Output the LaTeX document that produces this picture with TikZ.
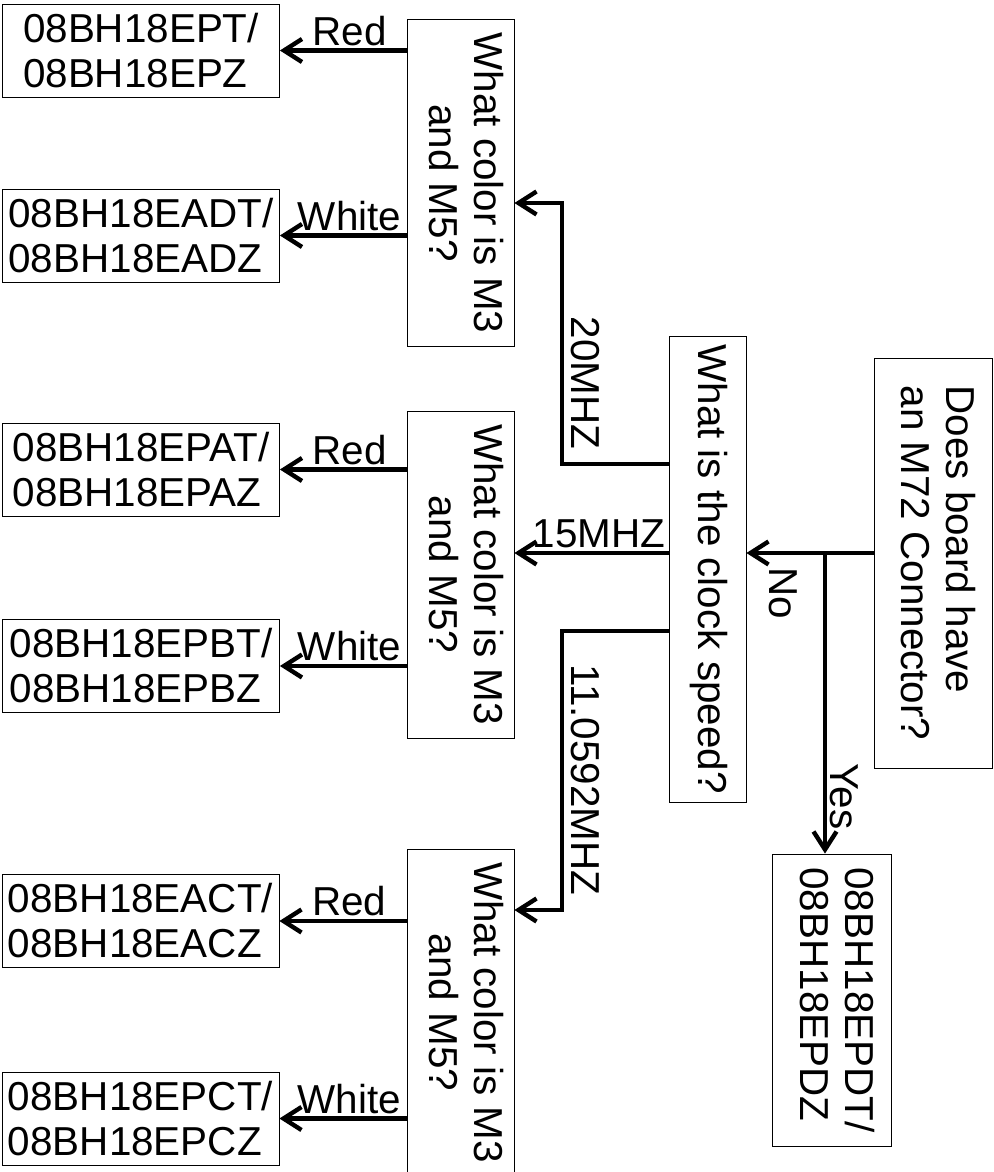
\documentclass[tikz,border=0pt]{standalone}
\usepackage{fontspec}
\setmainfont{Liberation Sans}
\usepackage{graphicx}
\usetikzlibrary{arrows.meta}

\newcommand{\bigfont}{\fontsize{23}{25.6}\selectfont}
\newcommand{\vtext}[2][c]{\rotatebox{-90}{\begin{tabular}{@{}#1@{}}#2\end{tabular}}}

\tikzset{
  frame/.style={draw,line width=0.5pt,inner sep=0pt},
  partbox/.style={frame,minimum width=5.54cm,minimum height=1.86cm,align=left},
  askbox/.style={frame,minimum width=2.14cm,minimum height=6.54cm},
  flow/.style={line width=2.5pt,-{Straight Barb[length=0.36cm,width=0.46cm]}},
  tag/.style={inner sep=1.5pt},
  vtag/.style={tag,rotate=-90,anchor=south,inner ysep=4pt}
}

\begin{document}
\begin{tikzpicture}[x=0.02cm,y=-0.02cm,font=\bigfont]
\useasboundingbox (0,0) rectangle (993,1172);

% first questions
\node[frame,minimum width=2.36cm,minimum height=8.2cm] (board) at (933,563) {\vtext[l]{Does board have\\an M72 Connector?}};
\node[frame,minimum width=2.38cm,minimum height=5.84cm] (epd) at (831.5,1000) {\vtext[l]{08BH18EPDT/\\08BH18EPDZ}};
\node[frame,minimum width=1.54cm,minimum height=9.32cm] (clock) at (707.5,569) {\vtext{What is the clock speed?}};

% colour questions
\node[askbox] (ask1) at (460.5,183) {\vtext{What color is M3\\and M5?}};
\node[askbox] (ask2) at (460.5,574.5) {\vtext{What color is M3\\and M5?}};
\node[askbox] (ask3) at (460.5,1012.5) {\vtext{What color is M3\\and M5?}};

% part numbers
\node[partbox] (ept) at (141,50.5) {08BH18EPT/\\08BH18EPZ};
\node[partbox] (eadt) at (141,235.5) {08BH18EADT/\\08BH18EADZ};
\node[partbox] (epat) at (141,469.5) {08BH18EPAT/\\08BH18EPAZ};
\node[partbox] (epbt) at (141,666) {08BH18EPBT/\\08BH18EPBZ};
\node[partbox] (eact) at (140.5,921) {08BH18EACT/\\08BH18EACZ};
\node[partbox] (epct) at (140.5,1118.5) {08BH18EPCT/\\08BH18EPCZ};

\coordinate (row) at (0,553);
\coordinate (fork) at (825,553);
\coordinate (k20) at (562,464);
\coordinate (t20) at (562,203);
\coordinate (k11) at (562,631);
\coordinate (t11) at (562,910);

\draw[flow] (board.west |- row) -- node[tag,rotate=-90,anchor=west,inner xsep=7pt,pos=0.71] {No} (clock.east |- row);
\draw[flow] (fork) -- node[vtag,inner ysep=1.5pt,pos=0.81] {Yes} (fork |- epd.north);

\draw[flow] (clock.west |- k20) -- (k20) -- node[vtag,pos=0.31] {20MHZ} (t20) -- (ask1.east |- t20);
\draw[flow] (clock.west |- row) -- node[tag,above,pos=0.45] {15MHZ} (ask2.east |- row);
\draw[flow] (clock.west |- k11) -- (k11) -- node[vtag,pos=0.534] {11.0592MHZ} (t11) -- (ask3.east |- t11);

\draw[flow] (ask1.west |- ept.east) -- node[tag,above,pos=0.45] {Red} (ept.east);
\draw[flow] (ask1.west |- eadt.east) -- node[tag,above,pos=0.45] {White} (eadt.east);
\draw[flow] (ask2.west |- epat.east) -- node[tag,above,pos=0.45] {Red} (epat.east);
\draw[flow] (ask2.west |- epbt.east) -- node[tag,above,pos=0.45] {White} (epbt.east);
\draw[flow] (ask3.west |- eact.east) -- node[tag,above,pos=0.45] {Red} (eact.east);
\draw[flow] (ask3.west |- epct.east) -- node[tag,above,pos=0.45] {White} (epct.east);

\end{tikzpicture}
\end{document}
